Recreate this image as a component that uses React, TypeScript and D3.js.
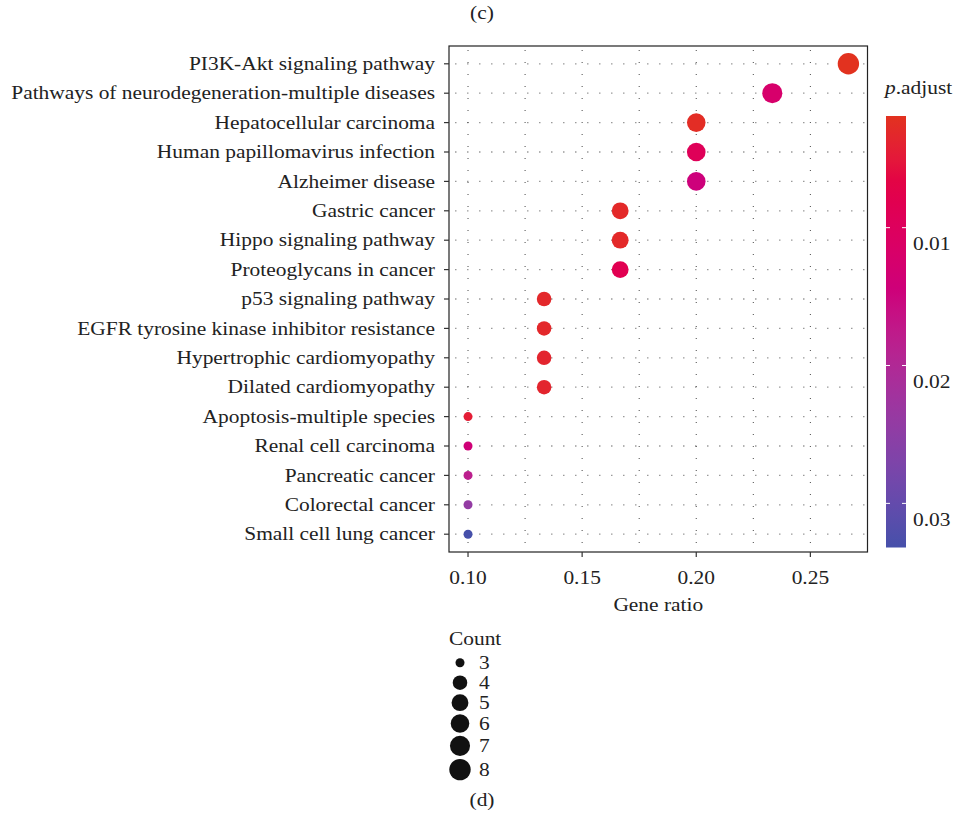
import React from "react";
import * as d3 from "d3";

const pathways = [
  "PI3K-Akt signaling pathway",
  "Pathways of neurodegeneration-multiple diseases",
  "Hepatocellular carcinoma",
  "Human papillomavirus infection",
  "Alzheimer disease",
  "Gastric cancer",
  "Hippo signaling pathway",
  "Proteoglycans in cancer",
  "p53 signaling pathway",
  "EGFR tyrosine kinase inhibitor resistance",
  "Hypertrophic cardiomyopathy",
  "Dilated cardiomyopathy",
  "Apoptosis-multiple species",
  "Renal cell carcinoma",
  "Pancreatic cancer",
  "Colorectal cancer",
  "Small cell lung cancer",
];
const counts = [8, 7, 6, 6, 6, 5, 5, 5, 4, 4, 4, 4, 3, 3, 3, 3, 3];
const geneRatio = [8 / 30, 7 / 30, 6 / 30, 6 / 30, 6 / 30, 5 / 30, 5 / 30, 5 / 30, 4 / 30, 4 / 30, 4 / 30, 4 / 30, 3 / 30, 3 / 30, 3 / 30, 3 / 30, 3 / 30];
const pAdjust = [0.0019, 0.0122, 0.0025, 0.0092, 0.0148, 0.003, 0.003, 0.0082, 0.0032, 0.0032, 0.0035, 0.0035, 0.0045, 0.0142, 0.0182, 0.0242, 0.0332];
const xTicks = [0.1, 0.15, 0.2, 0.25];
const xMinor = [0.125, 0.175, 0.225];
const colorTicks = [0.01, 0.02, 0.03];
const legendCounts = [3, 4, 5, 6, 7, 8];

const FONT = "'Liberation Serif', 'Times New Roman', serif";
const FS = 18;
const SX = 1.19;

function T({ x, y, anchor = "start", children, sx = SX, fs = FS }: { x: number; y: number; anchor?: string; children: React.ReactNode; sx?: number; fs?: number }) {
  return (
    <g transform={`translate(${x},${y}) scale(${sx},1)`}>
      <text x={0} y={0} dy="0.34em" textAnchor={anchor as any} fontSize={fs} fill="#222">{children}</text>
    </g>
  );
}

export default function App() {
  const left = 449, right = 867.5, top = 46, bottom = 552;
  const x = d3.scaleLinear().domain([0.1 - 0.1667 * 0.05, 0.2667 + 0.1667 * 0.05]).range([left, right]);
  const y = d3.scalePoint<string>().domain(pathways).range([top + 17.8, bottom - 17.8]);
  const pMin = 0.0019, pMax = 0.0332;
  const color = d3.scaleLinear<string>().domain([pMin, pMax]).range(["#E2321F", "#4650AA"]).interpolate(d3.interpolateHcl);
  const sizeT = d3.scaleLinear().domain([3, 8]).range([0, 1]);
  const radius = (c: number) => 4.5 + 6.2 * Math.sqrt(sizeT(c));

  const cbX = 886, cbW = 20, cbTop = 116, cbBot = 547.5;
  const cy = d3.scaleLinear().domain([pMin, pMax]).range([cbTop, cbBot]);
  const stops = d3.range(0, 1.0001, 0.05);

  const legendY: number[] = [];
  let acc = 652.7;
  legendCounts.forEach((c) => {
    const h = Math.max(20, 2 * radius(c) + 3);
    legendY.push(acc + h / 2);
    acc += h;
  });

  return (
    <svg width={959} height={822} style={{ position: "absolute", left: 0, top: 0, background: "#fff" }} fontFamily={FONT}>
      <rect x={0} y={0} width={959} height={822} fill="#fff" />
      <T x={482} y={13} anchor="middle">(c)</T>

      {pathways.map((p) => (
        <line key={"h" + p} x1={left} x2={right} y1={y(p)} y2={y(p)} stroke="#9a9a9a" strokeWidth={1.3} strokeDasharray="1.5 10.5" strokeDashoffset={-6} />
      ))}
      {[...xTicks, ...xMinor].map((t) => (
        <line key={"v" + t} x1={x(t)} x2={x(t)} y1={top} y2={bottom} stroke="#333" strokeWidth={0.9} strokeDasharray="1 11" strokeDashoffset={-4} />
      ))}

      {pathways.map((p, i) => (
        <circle key={"c" + p} cx={x(geneRatio[i])} cy={y(p)} r={radius(counts[i])} fill={color(pAdjust[i])} />
      ))}

      <rect x={left} y={top} width={right - left} height={bottom - top} fill="none" stroke="#222" strokeWidth={1.2} />

      {pathways.map((p) => (
        <g key={"yl" + p}>
          <line x1={left - 5} x2={left} y1={y(p)} y2={y(p)} stroke="#333" strokeWidth={1.2} />
          <T x={left - 14} y={y(p)} anchor="end">{p}</T>
        </g>
      ))}

      {xTicks.map((t) => (
        <g key={"xt" + t}>
          <line x1={x(t)} x2={x(t)} y1={bottom} y2={bottom + 5} stroke="#333" strokeWidth={1.2} />
          <T x={x(t)} y={bottom + 26} anchor="middle">{d3.format(".2f")(t)}</T>
        </g>
      ))}
      <T x={(left + right) / 2} y={605} anchor="middle">Gene ratio</T>

      <defs>
        <linearGradient id="cb" x1="0" x2="0" y1="0" y2="1">
          {stops.map((s) => (
            <stop key={s} offset={s} stopColor={color(pMin + s * (pMax - pMin))} />
          ))}
        </linearGradient>
      </defs>
      <g transform={`translate(885,88) scale(${SX},1)`}>
        <text x={0} y={0} dy="0.34em" fontSize={FS} fill="#222"><tspan fontStyle="italic">p</tspan>.adjust</text>
      </g>
      <rect x={cbX} y={cbTop} width={cbW} height={cbBot - cbTop} fill="url(#cb)" />
      {colorTicks.map((t) => (
        <g key={"ct" + t}>
          <line x1={cbX} x2={cbX + 4} y1={cy(t)} y2={cy(t)} stroke="#fff" strokeWidth={1} />
          <line x1={cbX + cbW - 4} x2={cbX + cbW} y1={cy(t)} y2={cy(t)} stroke="#fff" strokeWidth={1} />
          <T x={913} y={cy(t) + 16}>{d3.format(".2f")(t)}</T>
        </g>
      ))}

      <T x={449} y={639}>Count</T>
      {legendCounts.map((c, i) => (
        <g key={"lg" + c}>
          <circle cx={460} cy={legendY[i]} r={radius(c)} fill="#111" />
          <T x={479} y={legendY[i]}>{c}</T>
        </g>
      ))}

      <T x={482} y={800} anchor="middle">(d)</T>
    </svg>
  );
}
